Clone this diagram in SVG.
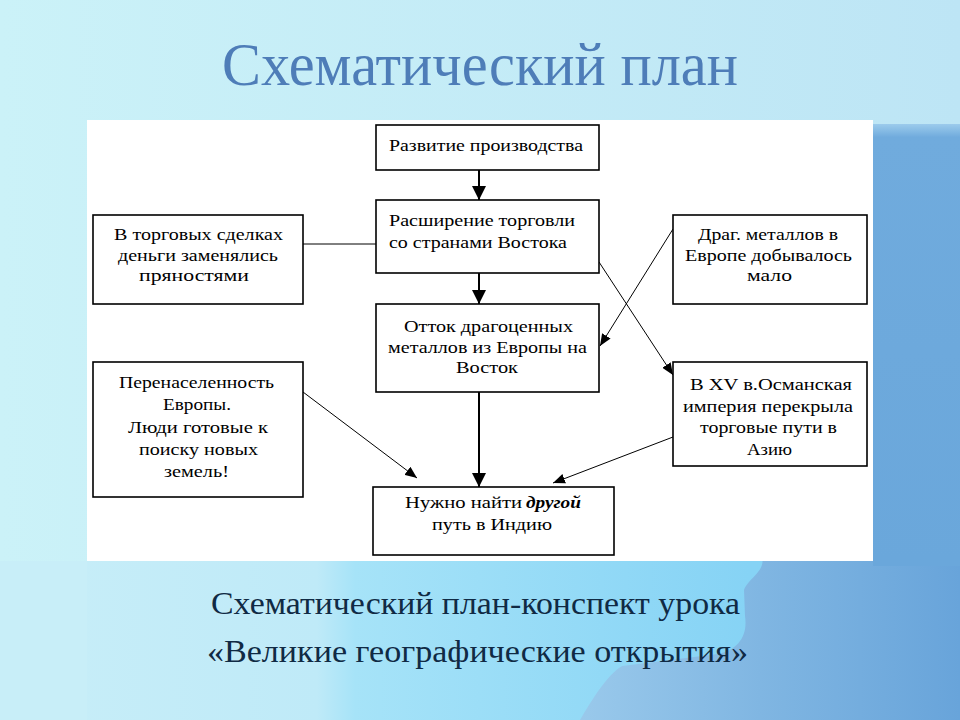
<svg xmlns="http://www.w3.org/2000/svg" width="960" height="720" viewBox="0 0 960 720">
  <defs>
    <linearGradient id="bgTop" x1="0" y1="0" x2="1" y2="0">
      <stop offset="0" stop-color="#cbf2f8"/>
      <stop offset="1" stop-color="#bde5f5"/>
    </linearGradient>
    <linearGradient id="bgBottom" x1="0" y1="0" x2="960" y2="0" gradientUnits="userSpaceOnUse">
      <stop offset="0" stop-color="#c8eef8"/>
      <stop offset="0.33" stop-color="#bfeaf8"/>
      <stop offset="0.37" stop-color="#a6e3f8"/>
      <stop offset="0.78" stop-color="#86d3f5"/>
      <stop offset="1" stop-color="#86d3f5"/>
    </linearGradient>
    <linearGradient id="bgRight" x1="560" y1="0" x2="960" y2="0" gradientUnits="userSpaceOnUse">
      <stop offset="0" stop-color="#9ccbec"/>
      <stop offset="0.5" stop-color="#80b6e2"/>
      <stop offset="1" stop-color="#68a4da"/>
    </linearGradient>
    <linearGradient id="strip" x1="0" y1="0" x2="0" y2="1">
      <stop offset="0" stop-color="#9ccbec"/>
      <stop offset="0.03" stop-color="#70abdd"/>
      <stop offset="1" stop-color="#6aa7db"/>
    </linearGradient>
    <marker id="ahBig" markerUnits="userSpaceOnUse" markerWidth="14" markerHeight="14" viewBox="0 0 14 14" refX="14" refY="7" orient="auto">
      <path d="M0,0 L14,7 L0,14 Z" fill="#000"/>
    </marker>
    <marker id="ahSmall" markerUnits="userSpaceOnUse" markerWidth="12" markerHeight="10" viewBox="0 0 12 10" refX="12" refY="5" orient="auto">
      <path d="M0,0 L12,5 L0,10 Z" fill="#000"/>
    </marker>
  </defs>
  <style>
    .box { fill: #fff; stroke: #000; stroke-width: 1.6; }
    .t { font-family: "Liberation Serif", Tinos, "Noto Serif", "DejaVu Serif", FreeSerif, "Times New Roman", Times, serif; font-size: 17px; fill: #000; }
    .bi { font-weight: bold; font-style: italic; }
    .thick { stroke: #000; stroke-width: 2; fill: none; }
    .thin { stroke: #000; stroke-width: 1; fill: none; }
    .title { font-family: "Liberation Serif", Tinos, "Noto Serif", "DejaVu Serif", FreeSerif, "Times New Roman", Times, serif; font-size: 62px; fill: #4e7db8; }
    .sub { font-family: "Liberation Serif", Tinos, "Noto Serif", "DejaVu Serif", FreeSerif, "Times New Roman", Times, serif; font-size: 32px; fill: #102a44; }
  </style>

  <!-- background -->
  <rect x="0" y="0" width="960" height="720" fill="url(#bgTop)"/>
  <rect x="87" y="561" width="873" height="159" fill="url(#bgBottom)"/>
  <rect x="0" y="561" width="87" height="159" fill="#c8eef8"/>
  <rect x="860" y="124" width="100" height="440" fill="url(#strip)"/>
  <path d="M762 556 C766 572 748 578 744 590 L745 616 C748 636 738 650 718 654 L622 666 C606 676 592 700 580 720 L960 720 L960 556 Z" fill="url(#bgRight)"/>
  <rect x="873" y="556" width="87" height="10" fill="#6aa7db"/>

  <!-- title -->
  <text class="title" x="480" y="85" text-anchor="middle" textLength="516" lengthAdjust="spacingAndGlyphs">Схематический план</text>

  <!-- white panel -->
  <rect x="87" y="120" width="786" height="441" fill="#fff"/>

  <!-- connectors -->
  <g id="connectors">
    <line class="thick" x1="479" y1="170" x2="479" y2="200" marker-end="url(#ahBig)"/>
    <line class="thick" x1="479" y1="273" x2="479" y2="304" marker-end="url(#ahBig)"/>
    <line class="thick" x1="479" y1="392" x2="479" y2="487" marker-end="url(#ahBig)"/>
    <line class="thin" x1="303" y1="244" x2="376" y2="244"/>
    <line class="thin" x1="599" y1="262" x2="673" y2="375" marker-end="url(#ahSmall)"/>
    <line class="thin" x1="673" y1="229" x2="600" y2="346" marker-end="url(#ahSmall)"/>
    <line class="thin" x1="303" y1="392" x2="417" y2="478" marker-end="url(#ahSmall)"/>
    <line class="thin" x1="673" y1="437" x2="553" y2="483" marker-end="url(#ahSmall)"/>
  </g>

  <g id="n1">
    <rect class="box" x="376" y="125" width="223" height="45"/>
    <text class="t" x="389" y="151" textLength="194" lengthAdjust="spacingAndGlyphs">Развитие производства</text>
  </g>
  <g id="n2">
    <rect class="box" x="376" y="200" width="223" height="73"/>
    <text class="t" x="389" y="226" textLength="186" lengthAdjust="spacingAndGlyphs">Расширение торговли</text>
    <text class="t" x="389" y="248" textLength="178" lengthAdjust="spacingAndGlyphs">со странами Востока</text>
  </g>
  <g id="n3">
    <rect class="box" x="93" y="215" width="210" height="89"/>
    <text class="t" x="114" y="240" textLength="169" lengthAdjust="spacingAndGlyphs">В торговых сделках</text>
    <text class="t" x="118" y="261" textLength="160" lengthAdjust="spacingAndGlyphs">деньги заменялись</text>
    <text class="t" x="139" y="281" textLength="110" lengthAdjust="spacingAndGlyphs">пряностями</text>
  </g>
  <g id="n4">
    <rect class="box" x="673" y="215" width="194" height="89"/>
    <text class="t" x="698" y="240" textLength="140" lengthAdjust="spacingAndGlyphs">Драг. металлов в</text>
    <text class="t" x="685" y="261" textLength="167" lengthAdjust="spacingAndGlyphs">Европе добывалось</text>
    <text class="t" x="747" y="281" textLength="45" lengthAdjust="spacingAndGlyphs">мало</text>
  </g>
  <g id="n5">
    <rect class="box" x="376" y="304" width="223" height="88"/>
    <text class="t" x="404" y="332" textLength="169" lengthAdjust="spacingAndGlyphs">Отток драгоценных</text>
    <text class="t" x="388" y="353" textLength="199" lengthAdjust="spacingAndGlyphs">металлов из Европы на</text>
    <text class="t" x="456" y="373" textLength="62" lengthAdjust="spacingAndGlyphs">Восток</text>
  </g>
  <g id="n6">
    <rect class="box" x="93" y="362" width="210" height="135"/>
    <text class="t" x="119" y="388" textLength="155" lengthAdjust="spacingAndGlyphs">Перенаселенность</text>
    <text class="t" x="163" y="410" textLength="68" lengthAdjust="spacingAndGlyphs">Европы.</text>
    <text class="t" x="128" y="433" textLength="140" lengthAdjust="spacingAndGlyphs">Люди готовые к</text>
    <text class="t" x="139" y="455" textLength="119" lengthAdjust="spacingAndGlyphs">поиску новых</text>
    <text class="t" x="164" y="477" textLength="65" lengthAdjust="spacingAndGlyphs">земель!</text>
  </g>
  <g id="n7">
    <rect class="box" x="673" y="362" width="194" height="104"/>
    <text class="t" x="690" y="390" textLength="162" lengthAdjust="spacingAndGlyphs">В XV в.Османская</text>
    <text class="t" x="683" y="412" textLength="170" lengthAdjust="spacingAndGlyphs">империя перекрыла</text>
    <text class="t" x="700" y="433" textLength="137" lengthAdjust="spacingAndGlyphs">торговые пути в</text>
    <text class="t" x="747" y="455" textLength="45" lengthAdjust="spacingAndGlyphs">Азию</text>
  </g>
  <g id="n8">
    <rect class="box" x="373" y="487" width="241" height="68"/>
    <text class="t" x="405" y="508" textLength="117" lengthAdjust="spacingAndGlyphs">Нужно найти</text>
    <text class="t bi" x="526" y="508" textLength="55" lengthAdjust="spacingAndGlyphs">другой</text>
    <text class="t" x="432" y="530" textLength="120" lengthAdjust="spacingAndGlyphs">путь в Индию</text>
  </g>

  <!-- subtitle -->
  <text class="sub" x="475.5" y="614" text-anchor="middle" textLength="529" lengthAdjust="spacingAndGlyphs">Схематический план-конспект урока</text>
  <text class="sub" x="477.5" y="662" text-anchor="middle" textLength="541" lengthAdjust="spacingAndGlyphs">«Великие географические открытия»</text>
</svg>
